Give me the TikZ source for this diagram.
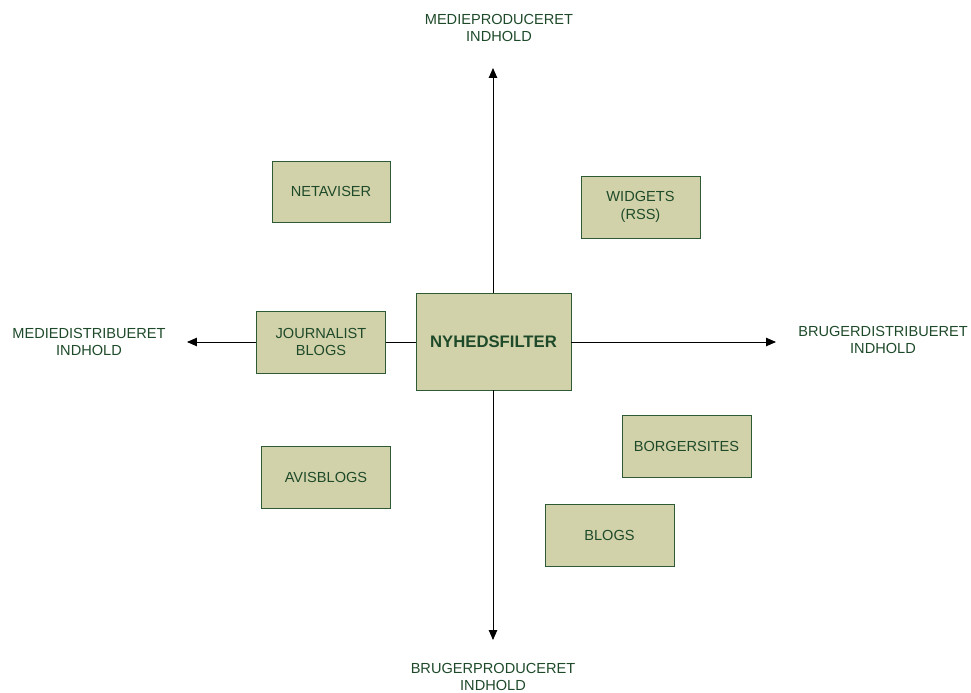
\documentclass[tikz,border=0pt]{standalone}
\usepackage{fontspec}
\setmainfont{Liberation Sans}
\usetikzlibrary{arrows.meta,positioning}

\definecolor{boxfill}{RGB}{210,210,170}
\definecolor{boxline}{RGB}{46,90,54}
\definecolor{labeltext}{RGB}{30,74,42}

\begin{document}
\begin{tikzpicture}[x=0.02cm, y=-0.02cm,
    box/.style = {draw=boxline, fill=boxfill, line width=0.5pt, text=labeltext,
        minimum width=2.58cm, minimum height=1.24cm, align=center,
        font=\fontsize{8.3}{10}\selectfont},
    axislabel/.style = {text=labeltext, align=center, font=\fontsize{8.3}{10}\selectfont},
    axis/.style = {line width=0.5pt, -{Triangle[length=2mm,width=1.7mm]}}]
    \useasboundingbox (0,0) rectangle (971,693);

    \node[box, minimum width=3.1cm, minimum height=1.94cm,
        font=\fontsize{9.5}{11}\selectfont\bfseries] (filter) at (493.5,341.5) {NYHEDSFILTER};

    \coordinate (top) at (493,68);
    \coordinate (bottom) at (493,640);
    \coordinate (left) at (187,342);
    \coordinate (right) at (776,342);

    \draw[axis] (filter.north -| top) -- (top);
    \draw[axis] (filter.south -| bottom) -- (bottom);
    \draw[axis] (filter.west |- left) -- (left);
    \draw[axis] (filter.east |- right) -- (right);

    \node[box, minimum width=2.36cm, minimum height=1.22cm] (netaviser) at (331,191.5) {NETAVISER};
    \node[box, minimum width=2.38cm] (widgets) at (640.5,207) {WIDGETS\\(RSS)};
    \node[box] (journalist) at (321,342) {JOURNALIST\\BLOGS};
    \node[box] (avisblogs) at (326,477) {AVISBLOGS};
    \node[box] (borgersites) at (686.5,446) {BORGERSITES};
    \node[box] (blogs) at (609.5,535) {BLOGS};

    \node[axislabel] (medieprod) at (499,28) {MEDIEPRODUCERET\\INDHOLD};
    \node[axislabel] (mediedist) at (89,342) {MEDIEDISTRIBUERET\\INDHOLD};
    \node[axislabel] (brugerdist) at (883,340) {BRUGERDISTRIBUERET\\INDHOLD};
    \node[axislabel] (brugerprod) at (493,677) {BRUGERPRODUCERET\\INDHOLD};
\end{tikzpicture}
\end{document}
